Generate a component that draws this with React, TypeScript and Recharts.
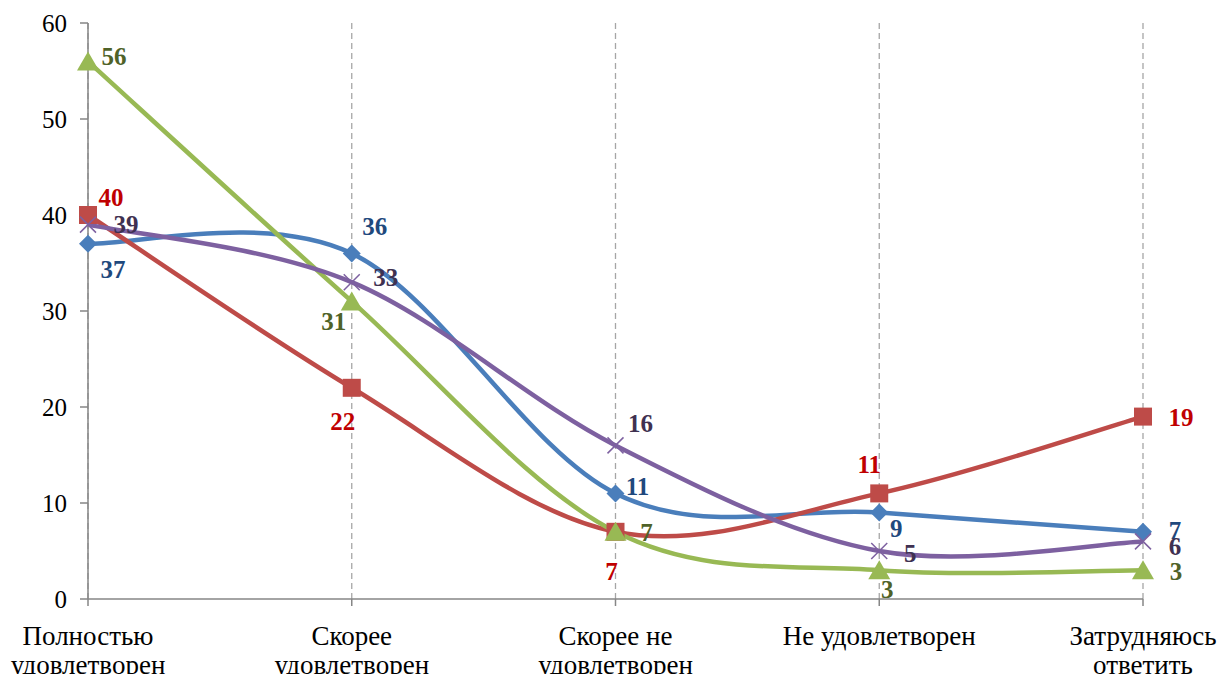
import { LineChart, Line, XAxis, YAxis, CartesianGrid, LabelList } from 'recharts';

const categories = [
  'Полностью\nудовлетворен',
  'Скорее\nудовлетворен',
  'Скорее не\nудовлетворен',
  'Не удовлетворен',
  'Затрудняюсь\nответить',
];

const blueValues = [37, 36, 11, 9, 7];
const redValues = [40, 22, 7, 11, 19];
const greenValues = [56, 31, 7, 3, 3];
const purpleValues = [39, 33, 16, 5, 6];

const yTicks = [0, 10, 20, 30, 40, 50, 60];

const data = categories.map((name, i) => ({
  name,
  blue: blueValues[i],
  red: redValues[i],
  green: greenValues[i],
  purple: purpleValues[i],
}));

// label offsets per point, so labels sit where excel put them
const blueOffsets = [[25, 26], [23, -27], [22, -7], [17, 16], [32, -1]];
const redOffsets = [[23, -18], [-9, 34], [-4, 40], [-10, -29], [38, 1]];
const greenOffsets = [[26, -5], [-18, 20], [31, 1], [8, 19], [33, 1]];
const purpleOffsets = [[38, 0], [34, -5], [25, -22], [31, 2], [32, 5]];

const FONT = 'Liberation Serif';

// excel-like smoothing (catmull-rom with 1/6 tension)
function excelCurve(context: any) {
  let pts: number[][] = [];
  return {
    areaStart() {},
    areaEnd() {},
    lineStart() { pts = []; },
    point(x: number, y: number) { pts.push([+x, +y]); },
    lineEnd() {
      if (!pts.length) return;
      context.moveTo(pts[0][0], pts[0][1]);
      for (let i = 0; i < pts.length - 1; i++) {
        const p0 = pts[i - 1] || pts[i];
        const p1 = pts[i];
        const p2 = pts[i + 1];
        const p3 = pts[i + 2] || p2;
        context.bezierCurveTo(
          p1[0] + (p2[0] - p0[0]) / 6, p1[1] + (p2[1] - p0[1]) / 6,
          p2[0] - (p3[0] - p1[0]) / 6, p2[1] - (p3[1] - p1[1]) / 6,
          p2[0], p2[1],
        );
      }
    },
  };
}

const makeLabel = (offsets: number[][], color: string) => (props: any) => {
  const { x, y, value, index } = props;
  const [dx, dy] = offsets[index];
  return (
    <text x={x + dx} y={y + dy} fill={color} fontSize={25} fontWeight="bold"
      fontFamily={FONT} textAnchor="middle" dominantBaseline="central">
      {value}
    </text>
  );
};

const DiamondDot = (props: any) => {
  const { cx, cy, index } = props;
  return <path key={`d${index}`} d={`M${cx},${cy - 9}L${cx + 9},${cy}L${cx},${cy + 9}L${cx - 9},${cy}Z`} fill="#4A7EBB" />;
};

const SquareDot = (props: any) => {
  const { cx, cy, index } = props;
  return <rect key={`s${index}`} x={cx - 9} y={cy - 9} width={18} height={18} fill="#BE4B48" />;
};

const TriangleDot = (props: any) => {
  const { cx, cy, index } = props;
  return <path key={`t${index}`} d={`M${cx},${cy - 10}L${cx + 11},${cy + 9}L${cx - 11},${cy + 9}Z`} fill="#98B954" />;
};

const CrossDot = (props: any) => {
  const { cx, cy, index } = props;
  return (
    <path key={`x${index}`} d={`M${cx - 8},${cy - 8}L${cx + 8},${cy + 8}M${cx - 8},${cy + 8}L${cx + 8},${cy - 8}`}
      stroke="#7D60A0" strokeWidth={1.5} fill="none" />
  );
};

const CategoryTick = (props: any) => {
  const { x, y, payload } = props;
  const lines = String(payload.value).split('\n');
  return (
    <text x={x} y={y} textAnchor="middle" fontSize={27} fontFamily={FONT} fill="#000">
      {lines.map((l, i) => (
        <tspan key={i} x={x} y={y + 37 + i * 29}>{l}</tspan>
      ))}
    </text>
  );
};

export default function App() {
  return (
    <div style={{ position: 'absolute', left: 0, top: 0, width: 1219, height: 674, background: '#fff', fontFamily: FONT }}>
      <LineChart width={1219} height={674} data={data}
        margin={{ top: 23, right: 76, bottom: 0, left: 0 }}>
        <CartesianGrid horizontal={false} stroke="#A6A6A6" strokeDasharray="6 4" strokeWidth={1.3} />
        <XAxis dataKey="name" scale="point" padding={{ left: 0, right: 0 }} height={75}
          interval={0} tick={<CategoryTick />} tickSize={7}
          stroke="#868686" strokeWidth={1.5} />
        <YAxis domain={[0, 60]} ticks={yTicks} width={88} tickSize={8} tickMargin={13}
          stroke="#868686" strokeWidth={1.5}
          tick={{ fill: '#000', fontSize: 25, fontFamily: FONT }} />
        <Line dataKey="blue" type={excelCurve as any} stroke="#4A7EBB" strokeWidth={4.5}
          dot={DiamondDot} activeDot={false} isAnimationActive={false}>
          <LabelList dataKey="blue" content={makeLabel(blueOffsets, '#1F497D')} />
        </Line>
        <Line dataKey="red" type={excelCurve as any} stroke="#BE4B48" strokeWidth={4.5}
          dot={SquareDot} activeDot={false} isAnimationActive={false}>
          <LabelList dataKey="red" content={makeLabel(redOffsets, '#C00000')} />
        </Line>
        <Line dataKey="green" type={excelCurve as any} stroke="#98B954" strokeWidth={4.5}
          dot={TriangleDot} activeDot={false} isAnimationActive={false}>
          <LabelList dataKey="green" content={makeLabel(greenOffsets, '#4F6228')} />
        </Line>
        <Line dataKey="purple" type={excelCurve as any} stroke="#7D60A0" strokeWidth={4.5}
          dot={CrossDot} activeDot={false} isAnimationActive={false}>
          <LabelList dataKey="purple" content={makeLabel(purpleOffsets, '#3F3151')} />
        </Line>
      </LineChart>
    </div>
  );
}
